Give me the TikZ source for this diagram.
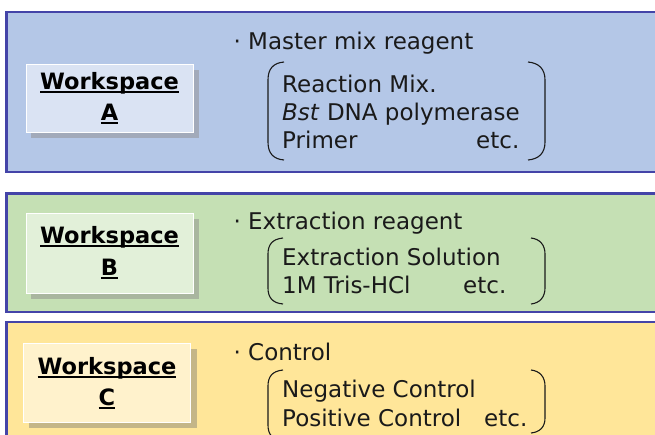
\documentclass[tikz,border=0pt]{standalone}
\usepackage{fontspec}
\setmainfont{DejaVu Sans}
\definecolor{panA}{HTML}{B4C7E7}
\definecolor{panB}{HTML}{C5E0B4}
\definecolor{panC}{HTML}{FFE699}
\definecolor{inA}{HTML}{DAE3F3}
\definecolor{inB}{HTML}{E2F0D9}
\definecolor{inC}{HTML}{FFF2CC}
\definecolor{shA}{HTML}{A2AABA}
\definecolor{shB}{HTML}{A9B69F}
\definecolor{shC}{HTML}{C4B688}
\definecolor{border}{HTML}{4444A8}
\definecolor{ink}{HTML}{1A1A1A}
\newcommand\wsul[1]{\setbox0=\hbox{#1}\leavevmode\rlap{\rule[-4pt]{\wd0}{1.6pt}}\box0}
\tikzset{
  x=1pt, y=-1pt,
  panel/.style={draw=border, line width=2.4pt},
  innerbox/.style={draw=white, line width=0.8pt, minimum width=167pt, minimum height=68pt, inner sep=0pt},
  wslabel/.style={font=\fontsize{22.5}{27}\selectfont\bfseries, text=black, inner sep=0pt, anchor=base},
  txt/.style={font=\fontsize{23}{28}\selectfont, text=ink, inner sep=0pt, anchor=base west},
  brk/.style={draw=ink, line width=1.1pt},
}
\begin{document}
\begin{tikzpicture}
\clip (0,0) rectangle (655,434);
% panels
\draw[panel, fill=panA] (6.5,12) rectangle (680,172);
\draw[panel, fill=panB] (6.5,193.5) rectangle (680,312);
\draw[panel, fill=panC] (6.5,322) rectangle (680,470);
% shadows
\fill[shA] (31,70) rectangle (199,138);
\fill[shB] (31,219) rectangle (199,299);
\fill[shC] (29,349) rectangle (197,428);
% inner boxes
\node[innerbox, fill=inA] (boxA) at (109.5,98) {};
\node[innerbox, fill=inB, minimum height=80pt] (boxB) at (109.5,253) {};
\node[innerbox, fill=inC, minimum height=79pt] (boxC) at (107,382.5) {};
% workspace labels
\node[wslabel] (wsA1) at (109.5,89) {\wsul{Workspace}};
\node[wslabel] (wsA2) at (109.5,120) {\wsul{A}};
\node[wslabel] (wsB1) at (109.5,243) {\wsul{Workspace}};
\node[wslabel] (wsB2) at (109.5,275) {\wsul{B}};
\node[wslabel] (wsC1) at (107,374) {\wsul{Workspace}};
\node[wslabel] (wsC2) at (107,405) {\wsul{C}};
% panel A texts
\node[txt] (hA) at (226,49) {\makebox[22pt]{·}Master mix reagent};
\node[txt] (a1) at (282,92) {Reaction Mix.};
\node[txt] (a2) at (282,120) {\textit{Bst} DNA polymerase};
\node[txt] (a3) at (282,148) {Primer};
\node[txt] (a4) at (476,148) {etc.};
\draw[brk] (284,62) .. controls (273,63) and (268,69) .. (268,80) -- (268,142) .. controls (268,153) and (273,159) .. (284,160);
\draw[brk] (528,62) .. controls (539,63) and (545,69) .. (545,80) -- (545,142) .. controls (545,153) and (539,159) .. (528,160);
% panel B texts
\node[txt] (hB) at (226,229) {\makebox[22pt]{·}Extraction reagent};
\node[txt] (b1) at (282,265) {Extraction Solution};
\node[txt] (b2) at (282,293) {1M Tris-HCl};
\node[txt] (b3) at (463,293) {etc.};
\draw[brk] (283,238) .. controls (272,239) and (268,245) .. (268,254) -- (268,288) .. controls (268,297) and (272,303) .. (283,304);
\draw[brk] (531,238) .. controls (540,239) and (545,245) .. (545,254) -- (545,288) .. controls (545,297) and (540,303) .. (531,304);
% panel C texts
\node[txt] (hC) at (226,360) {\makebox[22pt]{·}Control};
\node[txt] (c1) at (282,397) {Negative Control};
\node[txt] (c2) at (282,426) {Positive Control};
\node[txt] (c3) at (484,426) {etc.};
\draw[brk] (283,370) .. controls (272,371) and (268,377) .. (268,386) -- (268,425) .. controls (268,434) and (272,440) .. (283,441);
\draw[brk] (531,370) .. controls (540,371) and (545,377) .. (545,386) -- (545,418) .. controls (545,427) and (540,432) .. (531,433);
\end{tikzpicture}
\end{document}
